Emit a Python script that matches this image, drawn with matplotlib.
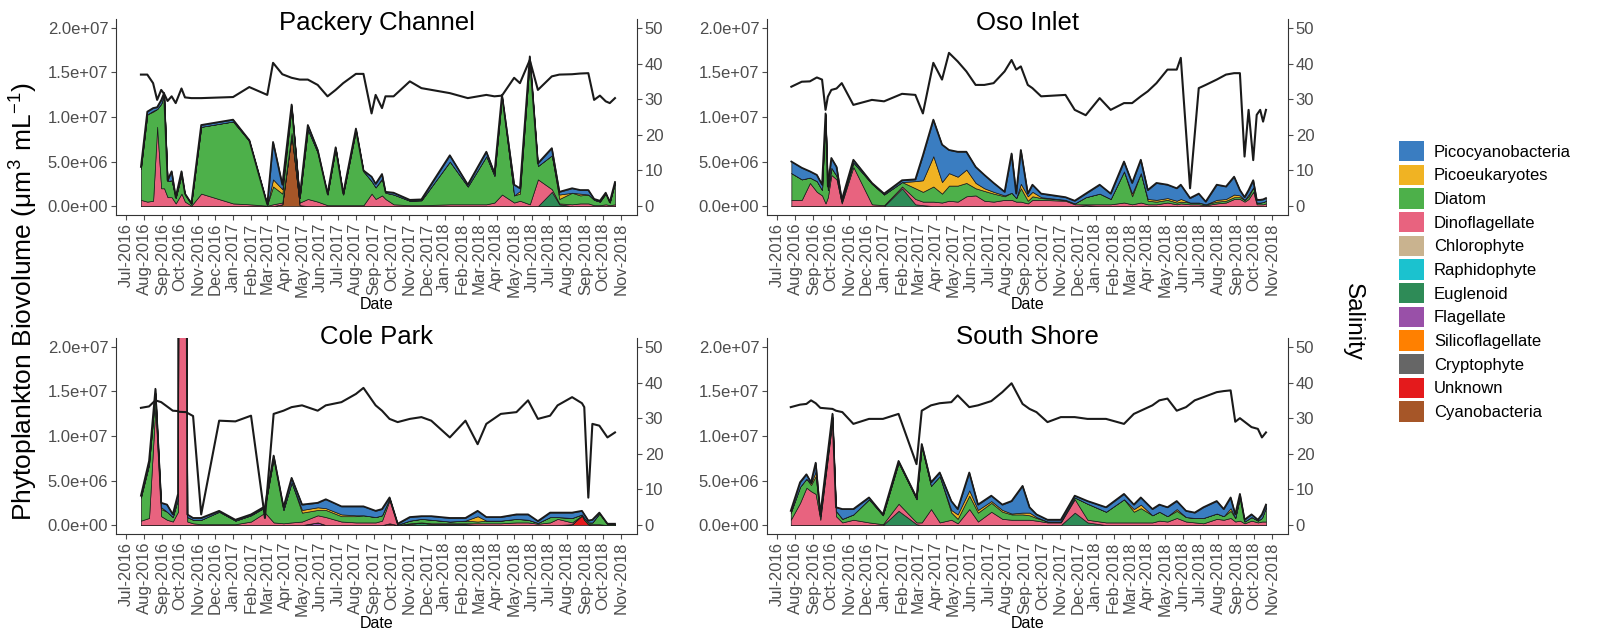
import matplotlib
matplotlib.use("Agg")
import matplotlib.pyplot as plt
import matplotlib.dates as mdates
from matplotlib.patches import Patch
from matplotlib.ticker import FuncFormatter
import numpy as np

plt.rcParams['font.family'] = ['Liberation Sans', 'DejaVu Sans']

# legend order (top of stack first)
taxa = ["Picocyanobacteria", "Picoeukaryotes", "Diatom", "Dinoflagellate", "Chlorophyte",
        "Raphidophyte", "Euglenoid", "Flagellate", "Silicoflagellate", "Cryptophyte",
        "Unknown", "Cyanobacteria"]
taxa_colors = ["#3A7DC1", "#F0B323", "#4DB04A", "#E8637F", "#C9B38F", "#1BC2CF",
               "#2E8B57", "#9950A8", "#FF8000", "#666666", "#E41A1C", "#A65628"]

# ---- Packery Channel (biovolume in 1e6 um3/mL) ----
pc_dates = ["2016-07-26", "2016-08-06", "2016-08-16", "2016-08-23", "2016-08-30", "2016-09-04",
            "2016-09-10", "2016-09-17", "2016-09-24", "2016-10-04", "2016-10-10", "2016-10-21",
            "2016-11-07", "2017-01-01", "2017-01-29", "2017-03-01", "2017-03-11", "2017-03-27",
            "2017-04-12", "2017-04-26", "2017-05-10", "2017-05-27", "2017-06-13", "2017-06-27",
            "2017-07-10", "2017-08-01", "2017-08-14", "2017-08-28", "2017-09-04", "2017-09-15",
            "2017-09-21", "2017-10-05", "2017-11-02", "2017-11-22", "2018-01-10", "2018-02-10",
            "2018-03-14", "2018-03-28", "2018-04-10", "2018-05-01", "2018-05-11", "2018-05-28",
            "2018-06-11", "2018-07-05", "2018-07-18", "2018-08-09", "2018-08-23", "2018-09-06",
            "2018-09-16", "2018-09-26", "2018-10-06", "2018-10-13", "2018-10-22"]
pc_pico = [0.2, 0.3, 0.3, 0.2, 0.4, 0.2, 0.1, 1.0, 0.1, 0.4, 0.1, 0.05, 0.2, 0.2, 0.1, 0.05, 4.2, 0.5,
           0.2, 0.1, 0.5, 0.3, 0.1, 0.1, 0.1, 0.2, 0.1, 0.5, 0.4, 0.5, 0.1, 0.2, 0.1, 0.1, 0.7, 0.2,
           0.5, 0.3, 0.2, 1.2, 0.3, 0.3, 0.3, 0.8, 0.3, 0.5, 0.4, 0.5, 0.1, 0.1, 0.1, 0.05, 0.1]
pc_peuk = [0, 0, 0.1, 0, 0, 0, 0, 0, 0, 0, 0, 0, 0, 0, 0, 0, 0.8, 0.5,
           0, 0, 0, 0, 0, 0, 0, 0, 0, 0, 0, 0.1, 0, 0, 0, 0, 0, 0,
           0, 0, 0, 0, 0.3, 0, 0, 0, 0.5, 0, 0.2, 0, 0, 0, 0, 0, 0]
pc_diat = [3.5, 9.8, 10.0, 2.0, 9.5, 10.5, 1.8, 1.9, 0.6, 2.1, 0.8, 0.2, 7.5, 9.2, 7.1, 0.1, 2.0, 1.0,
           3.0, 0.5, 7.8, 5.5, 1.2, 6.4, 1.2, 8.4, 3.8, 1.4, 1.3, 1.8, 0.7, 1.1, 0.5, 0.55, 4.8, 2.0,
           5.4, 3.0, 11.0, 0.8, 0.8, 16.3, 1.5, 3.8, 0.5, 1.3, 0.9, 1.0, 0.6, 0.4, 1.2, 0.3, 2.4]
pc_dino = [0.7, 0.5, 0.6, 8.9, 2.0, 2.0, 1.0, 1.0, 0.3, 1.4, 0.5, 0.05, 1.4, 0.3, 0.2, 0.05, 0.2, 0.2,
           0.2, 0.3, 0.8, 0.5, 0.1, 0.1, 0.1, 0.1, 0.1, 1.4, 0.8, 1.2, 0.8, 0.2, 0.1, 0.1, 0.2, 0.2,
           0.2, 0.4, 1.3, 0.4, 0.6, 0.2, 3.0, 0.3, 0.1, 0.2, 0.3, 0.3, 0.1, 0.1, 0.2, 0.1, 0.2]
pc_eugl = [0, 0, 0, 0, 0, 0, 0, 0, 0, 0, 0, 0, 0, 0, 0, 0, 0, 0,
           0, 0, 0, 0, 0, 0, 0, 0, 0, 0, 0, 0, 0, 0, 0, 0, 0, 0,
           0, 0, 0, 0, 0, 0, 0, 1.6, 0.2, 0, 0, 0, 0, 0, 0, 0, 0]
pc_cyan = [0, 0, 0, 0, 0, 0, 0, 0, 0, 0, 0, 0, 0, 0, 0, 0, 0, 0.2,
           8.0, 0.1, 0, 0, 0, 0, 0, 0, 0, 0, 0, 0, 0, 0, 0, 0, 0, 0,
           0, 0, 0, 0, 0, 0, 0, 0, 0, 0, 0, 0, 0, 0, 0, 0, 0]
pc_sal = [36.9, 36.9, 34.5, 29.8, 32.6, 31.5, 29.5, 30.8, 28.9, 33.0, 30.5, 30.3, 30.3, 30.6, 33.4,
          31.2, 40.2, 37.0, 36.0, 35.5, 35.5, 34.0, 30.8, 32.6, 34.5, 37.1, 37.1, 26.0, 31.2, 27.5,
          30.8, 30.8, 35.0, 33.1, 31.7, 30.3, 31.2, 30.8, 31.0, 36.0, 34.5, 41.0, 32.6, 36.4, 36.9,
          37.0, 37.2, 37.3, 29.8, 31.0, 29.4, 28.9, 30.3]

# ---- Oso Inlet ----
oi_dates = ["2016-07-25", "2016-08-12", "2016-08-26", "2016-09-07", "2016-09-16", "2016-09-22",
            "2016-09-26", "2016-10-02", "2016-10-11", "2016-10-20", "2016-11-09", "2016-12-11",
            "2017-01-01", "2017-02-01", "2017-02-24", "2017-03-09", "2017-03-27", "2017-04-11",
            "2017-04-23", "2017-05-08", "2017-05-23", "2017-06-08", "2017-06-23", "2017-07-09",
            "2017-07-28", "2017-08-09", "2017-08-17", "2017-08-25", "2017-09-06", "2017-09-14",
            "2017-09-29", "2017-11-10", "2017-11-26", "2017-12-15", "2018-01-08", "2018-01-27",
            "2018-02-19", "2018-03-05", "2018-03-20", "2018-04-01", "2018-04-16", "2018-05-05",
            "2018-05-21", "2018-05-28", "2018-06-13", "2018-06-28", "2018-07-10", "2018-07-29",
            "2018-08-14", "2018-08-28", "2018-09-07", "2018-09-15", "2018-09-22", "2018-09-30",
            "2018-10-06", "2018-10-12", "2018-10-17", "2018-10-22"]
oi_pico = [1.3, 1.3, 0.7, 0.7, 0.6, 0.1, 0.4, 1.1, 1.0, 0.2, 0.3, 0.1, 0.1, 0.2, 0.2, 2.8, 4.1, 4.2,
           2.6, 2.8, 2.0, 1.8, 1.5, 1.0, 0.4, 4.4, 0.5, 3.8, 0.3, 0.8, 0.4, 0.3, 0.3, 0.4, 1.0, 0.6,
           1.1, 1.2, 1.5, 1.0, 1.9, 1.5, 1.4, 1.6, 0.5, 1.0, 0.3, 1.7, 1.4, 2.0, 0.6, 0.3, 0.5, 0.8,
           0.3, 0.3, 0.3, 0.3]
oi_peuk = [0, 0, 0, 0, 0, 0, 0, 0, 0, 0, 0, 0, 0, 0, 0.8, 1.3, 3.4, 1.3,
           1.4, 1.0, 1.5, 0.6, 0.3, 0.2, 0.1, 0, 0, 0.5, 0.5, 0.5, 0.1, 0, 0, 0, 0, 0,
           0, 0.3, 0, 0.2, 0.2, 0.2, 0.2, 0.3, 0, 0, 0, 0.2, 0.2, 0.3, 0.2, 0, 0.2, 0,
           0, 0, 0, 0]
oi_diat = [3.0, 2.3, 0.6, 1.2, 0.6, 10.0, 0.8, 0.8, 0.4, 0.2, 0.5, 2.3, 1.2, 0.5, 1.2, 1.1, 1.7, 1.0,
           1.7, 1.8, 1.5, 0.8, 1.1, 0.9, 0.4, 0.8, 0.4, 1.5, 0.3, 0.4, 0.2, 0.1, 0.1, 0.8, 1.2, 0.6,
           3.5, 0.9, 3.3, 0.4, 0.3, 0.3, 0.2, 0.2, 0.2, 0.2, 0.1, 0.2, 0.2, 0.2, 0.2, 0.2, 0.3, 0.5,
           0.2, 0.2, 0.25, 0.3]
oi_dino = [0.7, 0.7, 2.6, 1.6, 1.2, 0.3, 1.0, 3.5, 3.0, 0.3, 4.4, 0.2, 0.1, 0.2, 0.6, 0.4, 0.5, 0.4,
           0.6, 0.5, 1.1, 1.2, 0.6, 0.5, 0.7, 0.7, 0.5, 0.5, 0.3, 0.7, 0.7, 0.6, 0.2, 0.1, 0.2, 0.2,
           0.4, 0.2, 0.4, 0.2, 0.2, 0.4, 0.2, 0.3, 0.2, 0.2, 0.1, 0.3, 0.4, 0.8, 0.8, 0.5, 0.8, 1.6,
           0.2, 0.2, 0.2, 0.3]
oi_eugl = [0, 0, 0, 0, 0, 0, 0, 0, 0, 0, 0, 0, 0, 2.0, 0.2, 0.1, 0, 0,
           0, 0, 0, 0, 0, 0, 0, 0, 0, 0, 0, 0, 0, 0, 0, 0.1, 0, 0,
           0, 0, 0, 0, 0, 0, 0, 0, 0, 0, 0, 0, 0, 0, 0, 0, 0, 0,
           0, 0, 0, 0]
oi_sal = [33.5, 34.9, 35.0, 36.1, 35.5, 27.0, 30.7, 32.6, 33.0, 34.5, 28.4, 29.8, 29.4, 31.5, 31.2,
          26.0, 40.2, 35.5, 43.0, 40.6, 37.8, 34.0, 34.0, 34.5, 37.8, 41.0, 38.3, 39.2, 34.0, 33.1,
          30.8, 31.2, 27.0, 25.5, 30.3, 27.0, 28.9, 28.9, 30.8, 32.2, 34.5, 38.3, 38.3, 41.6, 5.0,
          33.1, 34.0, 35.5, 36.9, 37.3, 37.3, 13.9, 27.0, 12.9, 25.6, 27.0, 23.7, 27.0]

# ---- Cole Park ----
cp_dates = ["2016-07-26", "2016-08-09", "2016-08-20", "2016-08-30", "2016-09-09", "2016-09-19",
            "2016-09-28", "2016-09-29", "2016-10-12", "2016-10-14", "2016-10-24", "2016-11-07",
            "2016-12-08", "2017-01-05", "2017-02-01", "2017-02-25", "2017-03-12", "2017-03-29",
            "2017-04-12", "2017-04-30", "2017-05-27", "2017-06-10", "2017-07-07", "2017-08-01",
            "2017-08-14", "2017-09-04", "2017-09-15", "2017-09-28", "2017-10-12", "2017-11-02",
            "2017-11-22", "2017-12-09", "2018-01-10", "2018-02-06", "2018-02-27", "2018-03-14",
            "2018-04-08", "2018-05-05", "2018-05-25", "2018-06-11", "2018-07-02", "2018-07-15",
            "2018-08-09", "2018-08-26", "2018-08-30", "2018-09-06", "2018-09-13", "2018-09-25",
            "2018-10-09", "2018-10-22"]
cp_pico = [0.2, 0.4, 0.5, 0.5, 0.8, 0.3, 0.5, 0.1, 0.1, 0.3, 0.2, 0.2, 0.1, 0.1, 0.1, 0.1, 0.3, 0.3,
           0.5, 0.6, 0.5, 1.0, 0.9, 1.0, 1.0, 0.7, 0.7, 0.1, 0.1, 0.4, 0.3, 0.4, 0.4, 0.3, 0.6, 0.4,
           0.4, 0.5, 0.6, 0.2, 0.5, 0.5, 0.6, 0.4, 0.4, 0.2, 0.3, 0.1, 0.05, 0.05]
cp_peuk = [0, 0, 0, 0.2, 0, 0, 0, 0, 0, 0, 0, 0, 0, 0, 0, 0, 0, 0,
           0, 0.3, 0.3, 0.2, 0.2, 0.1, 0, 0, 0, 0, 0, 0, 0, 0, 0, 0, 0.6, 0,
           0, 0, 0, 0, 0, 0, 0, 0, 0, 0, 0, 0, 0, 0]
cp_diat = [2.6, 6.0, 1.5, 0.8, 0.9, 0.5, 1.5, 1.0, 1.0, 0.5, 0.4, 0.5, 1.4, 0.4, 0.7, 0.6, 7.2, 1.5,
           4.5, 1.0, 0.6, 0.8, 0.6, 0.7, 0.8, 0.6, 0.6, 0.2, 0.05, 0.3, 0.4, 0.4, 0.2, 0.3, 0.2, 0.3,
           0.3, 0.4, 0.3, 0.1, 0.6, 0.2, 0.5, 0.1, 0.2, 0.2, 0.2, 1.2, 0.1, 0.1]
cp_dino = [0.5, 0.8, 13.3, 1.0, 0.6, 0.4, 1.5, 50.0, 50.0, 0.4, 0.2, 0.1, 0.1, 0.1, 0.4, 1.4, 0.3, 0.2,
           0.3, 0.4, 0.8, 0.9, 0.4, 0.3, 0.3, 0.3, 0.5, 2.6, 0, 0.1, 0, 0.1, 0.1, 0.1, 0.2, 0.2,
           0.2, 0.3, 0.3, 0.15, 0.3, 0.7, 0.2, 0, 0, 0, 0.1, 0.1, 0, 0]
cp_eugl = [0, 0, 0, 0, 0, 0, 0, 0, 0, 0, 0, 0, 0, 0, 0, 0, 0, 0,
           0, 0, 0, 0, 0, 0, 0, 0, 0, 0, 0, 0.1, 0.3, 0.1, 0.1, 0.1, 0, 0,
           0, 0, 0, 0, 0, 0, 0, 0, 0, 0, 0, 0, 0, 0]
cp_flag = [0, 0, 0, 0, 0, 0, 0, 0, 0, 0, 0, 0, 0, 0, 0, 0, 0, 0,
           0, 0, 0.3, 0, 0, 0, 0, 0, 0, 0, 0, 0, 0, 0, 0, 0, 0, 0,
           0, 0, 0, 0, 0, 0, 0, 0, 0, 0, 0, 0, 0, 0]
cp_unkn = [0, 0, 0, 0, 0, 0, 0, 0, 0, 0, 0, 0, 0, 0, 0, 0, 0, 0,
           0, 0, 0, 0, 0, 0, 0, 0, 0, 0.2, 0, 0, 0, 0, 0, 0, 0, 0,
           0, 0, 0, 0, 0, 0, 0.1, 1.1, 0.6, 0.1, 0, 0, 0, 0]
cp_sal = [32.9, 33.3, 35.0, 34.5, 33.3, 32.1, 32.0, 31.8, 31.7, 31.5, 30.6, 3.0, 29.3, 29.1, 30.7,
          2.0, 31.2, 32.1, 33.1, 33.6, 32.1, 33.6, 34.5, 36.8, 38.5, 33.6, 32.1, 29.8, 28.9, 29.8,
          30.3, 29.3, 24.6, 29.3, 22.7, 28.4, 31.2, 31.7, 35.0, 29.8, 30.7, 33.6, 35.9, 34.2, 33.1,
          7.7, 28.4, 27.9, 24.6, 26.0]

# ---- South Shore ----
ss_dates = ["2016-07-24", "2016-08-09", "2016-08-20", "2016-08-28", "2016-09-05", "2016-09-13",
            "2016-10-04", "2016-10-10", "2016-10-21", "2016-11-09", "2016-12-06", "2016-12-30",
            "2017-01-26", "2017-02-26", "2017-03-07", "2017-03-23", "2017-04-07", "2017-04-27",
            "2017-05-08", "2017-05-28", "2017-06-12", "2017-07-05", "2017-07-24", "2017-08-09",
            "2017-08-28", "2017-09-09", "2017-09-21", "2017-10-10", "2017-11-02", "2017-11-26",
            "2017-12-18", "2018-01-19", "2018-02-19", "2018-03-08", "2018-03-20", "2018-04-09",
            "2018-04-21", "2018-05-05", "2018-05-21", "2018-06-06", "2018-06-21", "2018-07-06",
            "2018-07-29", "2018-08-10", "2018-08-22", "2018-08-30", "2018-09-07", "2018-09-15",
            "2018-09-27", "2018-10-08", "2018-10-15", "2018-10-22"]
ss_pico = [0.2, 0.5, 0.5, 0.1, 1.0, 0.2, 0.4, 0.4, 1.1, 0.6, 0.2, 0.1, 0.2, 0.2, 0.3, 0.4, 0.4, 1.0,
           0.6, 2.0, 0.6, 0.6, 0.6, 1.4, 3.0, 0.6, 0.3, 0.2, 0.2, 0.2, 0.3, 0.5, 0.6, 0.5, 0.8, 0.7,
           0.8, 1.0, 0.9, 0.7, 0.6, 1.2, 1.4, 0.8, 1.2, 0.4, 0.4, 0.2, 0.3, 0.1, 0.4, 0.3]
ss_peuk = [0, 0, 0, 0.2, 0.5, 0, 0, 0, 0, 0, 0, 0, 0, 0, 0, 0, 0, 0.3,
           0.5, 0.6, 0.3, 0.2, 0.2, 0.1, 0.2, 0.3, 0.1, 0, 0, 0, 0, 0, 0, 0.3, 0.4, 0,
           0, 0, 0.2, 0, 0, 0, 0, 0, 0.3, 0, 0, 0, 0, 0, 0, 0]
ss_diat = [0.8, 1.8, 1.0, 0.7, 2.0, 0.4, 0.3, 0.6, 0.4, 0.6, 2.6, 1.0, 4.6, 2.6, 8.5, 2.6, 5.2, 0.8,
           0.5, 1.5, 1.0, 1.0, 0.8, 0.6, 0.6, 0.5, 0.3, 0.1, 0.1, 0.2, 1.8, 1.2, 2.6, 1.2, 1.6, 0.8,
           1.0, 0.6, 0.8, 0.5, 0.5, 0.6, 0.6, 0.4, 0.8, 0.4, 2.6, 0.2, 0.4, 0.2, 0.4, 1.6]
ss_dino = [0.6, 2.5, 4.2, 3.8, 3.5, 0.6, 11.8, 1.0, 0.3, 0.6, 0.3, 0.1, 0.8, 0.2, 0.3, 1.8, 0.3, 0.6,
           0.2, 1.8, 0.4, 1.5, 0.7, 0.6, 0.6, 0.6, 0.5, 0.3, 0.3, 1.5, 0.3, 0.3, 0.3, 0.3, 0.3, 0.3,
           0.5, 0.4, 0.8, 0.4, 0.3, 0.2, 0.7, 0.6, 0.8, 0.4, 0.5, 0.2, 0.5, 0.3, 0.4, 0.4]
ss_eugl = [0, 0, 0, 0, 0, 0, 0, 0, 0, 0, 0, 0, 1.6, 0.1, 0, 0, 0, 0,
           0, 0, 0, 0, 0, 0, 0, 0, 0, 0, 0, 1.4, 0.3, 0, 0, 0, 0, 0,
           0, 0, 0, 0, 0, 0, 0, 0, 0, 0, 0, 0, 0, 0, 0, 0]
ss_sal = [33.1, 33.8, 34.0, 35.0, 34.2, 32.9, 32.6, 32.1, 31.7, 28.4, 29.8, 29.8, 31.2, 17.1, 32.1,
          33.6, 34.2, 34.5, 36.4, 33.1, 33.6, 34.8, 37.3, 39.8, 34.0, 32.6, 31.7, 28.9, 30.3, 30.3,
          29.8, 29.8, 28.4, 31.2, 32.1, 33.6, 35.0, 35.5, 32.1, 33.1, 35.0, 35.9, 37.3, 37.6, 37.8,
          29.0, 30.0, 29.0, 27.5, 27.0, 24.6, 26.0]

GRAY = "#4D4D4D"


def draw_panel(rect, title, title_y, dates, layers, sal):
    ax = fig.add_axes(rect)
    x = mdates.date2num(np.array(dates, dtype="datetime64[D]"))
    names = [n for n, _ in layers]
    vals = [np.array(v) * 1e6 for _, v in layers]
    cols = [taxa_colors[taxa.index(n)] for n in names]
    ax.stackplot(x, *vals, colors=cols, edgecolor="#1a1a1a", linewidth=0.5)
    ax.plot(x, np.sum(vals, axis=0), color="#1a1a1a", lw=1.3)
    ax.set_ylim(-1e6, 2.1e7)
    ax.set_yticks([0, 5e6, 1e7, 1.5e7, 2e7])
    ax.yaxis.set_major_formatter(FuncFormatter(lambda v, p: f"{v:.1e}"))
    ax.set_xlim(mdates.date2num(np.datetime64("2016-06-13")), mdates.date2num(np.datetime64("2018-11-29")))
    ax.xaxis.set_major_locator(mdates.MonthLocator())
    ax.xaxis.set_major_formatter(mdates.DateFormatter("%b-%Y"))
    ax.tick_params(axis="x", labelrotation=90, labelsize=12, colors=GRAY, length=3.5, pad=2)
    ax.tick_params(axis="y", labelsize=12, colors=GRAY, length=3.5, pad=2)
    ax.set_xlabel("Date", fontsize=11.5, labelpad=0)
    for s in ["top", "right"]:
        ax.spines[s].set_visible(False)
    for s in ["left", "bottom"]:
        ax.spines[s].set_color("#333333")

    ax2 = ax.twinx()
    ax2.plot(x, sal, color="#1a1a1a", lw=1.5)
    ax2.set_ylim(-2.5, 52.5)
    ax2.set_yticks([0, 10, 20, 30, 40, 50])
    ax2.tick_params(axis="y", labelsize=12, colors=GRAY, length=3.5, pad=2)
    for s in ["top", "left", "bottom"]:
        ax2.spines[s].set_visible(False)
    ax2.spines["right"].set_color("#333333")
    fig.text(rect[0] + rect[2] / 2, 1 - title_y / 628, title, ha="center", va="center", fontsize=18.5)
    return ax


fig = plt.figure(figsize=(16.2, 6.28), dpi=100)

W, H = 521 / 1620, 196 / 628
draw_panel([116 / 1620, 1 - 215 / 628, W, H], "Packery Channel", 23, pc_dates,
           [("Cyanobacteria", pc_cyan), ("Euglenoid", pc_eugl), ("Dinoflagellate", pc_dino),
            ("Diatom", pc_diat), ("Picoeukaryotes", pc_peuk), ("Picocyanobacteria", pc_pico)], pc_sal)
draw_panel([767 / 1620, 1 - 215 / 628, W, H], "Oso Inlet", 23, oi_dates,
           [("Euglenoid", oi_eugl), ("Dinoflagellate", oi_dino), ("Diatom", oi_diat),
            ("Picoeukaryotes", oi_peuk), ("Picocyanobacteria", oi_pico)], oi_sal)
draw_panel([116 / 1620, 1 - 534 / 628, W, H], "Cole Park", 337, cp_dates,
           [("Unknown", cp_unkn), ("Flagellate", cp_flag), ("Euglenoid", cp_eugl),
            ("Dinoflagellate", cp_dino), ("Diatom", cp_diat), ("Picoeukaryotes", cp_peuk),
            ("Picocyanobacteria", cp_pico)], cp_sal)
draw_panel([767 / 1620, 1 - 534 / 628, W, H], "South Shore", 337, ss_dates,
           [("Euglenoid", ss_eugl), ("Dinoflagellate", ss_dino), ("Diatom", ss_diat),
            ("Picoeukaryotes", ss_peuk), ("Picocyanobacteria", ss_pico)], ss_sal)

fig.text(24 / 1620, 1 - 302 / 628, r"Phytoplankton Biovolume ($\mathregular{\mu m^3\ mL^{-1}}$)",
         rotation=90, ha="center", va="center", fontsize=19)
fig.text(1353 / 1620, 1 - 322 / 628, "Salinity", rotation=270, ha="center", va="center", fontsize=17.5)

handles = [Patch(facecolor=c, edgecolor="none") for c in taxa_colors]
fig.legend(handles, taxa, loc="upper left", bbox_to_anchor=(1384 / 1620, 1 - 126 / 628),
           frameon=False, fontsize=12, handlelength=1.5, handleheight=1.5,
           labelspacing=0.2, handletextpad=0.6, borderpad=0.4)

fig.savefig("out.png", dpi=100)
